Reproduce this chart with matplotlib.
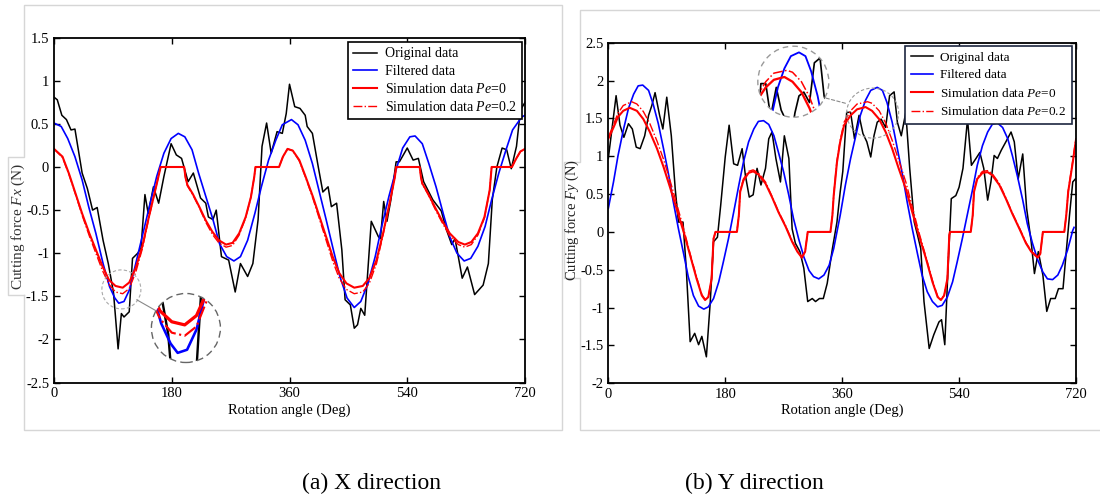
import numpy as np
import matplotlib
matplotlib.use("Agg")
import matplotlib.pyplot as plt
from matplotlib.lines import Line2D
from matplotlib.patches import Circle, Ellipse, ConnectionPatch

plt.rcParams["font.family"] = ["Liberation Serif", "DejaVu Serif"]
plt.rcParams["mathtext.fontset"] = "custom"
plt.rcParams["mathtext.rm"] = "Liberation Serif"
plt.rcParams["mathtext.it"] = "Liberation Serif:italic"
plt.rcParams["axes.unicode_minus"] = False

# ---------------- data: (a) X direction, (deg, N) ----------------
fx_original = [(0, 0.81), (5, 0.78), (12, 0.60), (19, 0.55), (26, 0.43), (32, 0.44), (43, -0.07),
               (51, -0.25), (59, -0.50), (66, -0.47), (75, -0.85), (83, -1.12), (91, -1.46),
               (98, -2.11), (103, -1.70), (107, -1.74), (115, -1.68), (120, -1.06), (128, -1.00),
               (133, -0.94), (139, -0.32), (144, -0.54), (152, -0.23), (160, -0.42), (168, -0.11),
               (179, 0.27), (187, 0.14), (195, 0.10), (205, -0.17), (213, -0.07), (224, -0.36),
               (232, -0.42), (236, -0.58), (243, -0.61), (248, -0.50), (256, -1.04), (267, -1.08),
               (277, -1.45), (285, -1.12), (296, -1.27), (304, -1.12), (312, -0.61), (318, 0.24),
               (325, 0.51), (332, 0.16), (341, 0.41), (349, 0.39), (355, 0.62), (360, 0.96),
               (368, 0.70), (376, 0.68), (384, 0.60), (387, 0.47), (395, 0.39), (404, 0.00),
               (411, -0.29), (419, -0.23), (424, -0.46), (432, -0.42), (440, -0.96), (445, -1.54),
               (453, -1.60), (459, -1.87), (464, -1.83), (469, -1.64), (475, -1.72), (485, -0.63),
               (496, -0.81), (499, -0.83), (504, -0.40), (509, -0.63), (515, -0.38), (523, 0.06),
               (528, 0.06), (540, 0.22), (549, 0.08), (557, 0.10), (565, -0.17), (573, -0.29),
               (579, -0.38), (587, -0.46), (592, -0.51), (600, -0.73), (608, -0.90), (613, -0.83),
               (624, -1.29), (632, -1.16), (643, -1.48), (656, -1.37), (664, -1.12), (670, -0.38),
               (677, 0.00), (685, 0.22), (692, 0.20), (699, -0.02), (707, 0.24), (713, 0.66),
               (720, 0.75)]

fx_filtered = [(0, 0.51), (11, 0.47), (21, 0.33), (32, 0.12), (43, -0.15), (53, -0.46), (64, -0.77),
               (75, -1.12), (85, -1.39), (93, -1.52), (99, -1.58), (107, -1.56), (115, -1.43),
               (125, -1.12), (136, -0.77), (147, -0.42), (157, -0.11), (168, 0.16), (179, 0.33),
               (190, 0.39), (200, 0.35), (211, 0.20), (221, -0.07), (232, -0.34), (243, -0.61),
               (253, -0.89), (264, -1.04), (275, -1.09), (285, -1.04), (296, -0.85), (307, -0.54),
               (317, -0.23), (328, 0.08), (339, 0.31), (349, 0.49), (363, 0.55), (373, 0.49),
               (384, 0.31), (395, 0.04), (405, -0.27), (416, -0.61), (427, -0.96), (437, -1.27),
               (448, -1.52), (459, -1.63), (469, -1.56), (480, -1.35), (491, -1.04), (501, -0.69),
               (512, -0.34), (523, -0.03), (533, 0.22), (544, 0.35), (552, 0.36), (563, 0.27),
               (573, 0.04), (584, -0.23), (595, -0.54), (605, -0.81), (616, -1.00), (627, -1.09),
               (637, -1.06), (648, -0.92), (659, -0.69), (669, -0.38), (680, -0.07), (691, 0.20),
               (701, 0.43), (715, 0.58), (720, 0.60)]

fx_sim_pe0 = [(0, 0.21), (13, 0.12), (23, -0.08), (33, -0.31), (43, -0.54), (54, -0.77), (64, -0.96),
              (74, -1.15), (84, -1.31), (94, -1.38), (105, -1.40), (115, -1.34), (125, -1.17),
              (135, -0.92), (145, -0.58), (156, -0.23), (163, 0.00), (199, 0.00), (201, -0.12),
              (204, -0.21), (212, -0.31), (222, -0.46), (232, -0.62), (242, -0.75), (252, -0.85),
              (263, -0.90), (273, -0.88), (283, -0.77), (293, -0.58), (301, -0.35), (306, -0.12),
              (308, 0.00), (344, 0.00), (350, 0.12), (357, 0.21), (365, 0.19), (375, 0.08),
              (385, -0.12), (396, -0.35), (406, -0.58), (416, -0.81), (426, -1.04), (436, -1.23),
              (447, -1.35), (459, -1.40), (472, -1.38), (482, -1.29), (493, -1.08), (503, -0.77),
              (513, -0.42), (521, -0.12), (523, 0.00), (559, 0.00), (561, -0.12), (563, -0.19),
              (572, -0.31), (582, -0.46), (593, -0.62), (605, -0.77), (618, -0.87), (628, -0.90),
              (638, -0.87), (648, -0.77), (658, -0.58), (666, -0.27), (669, 0.00), (700, 0.00),
              (706, 0.09), (713, 0.18), (720, 0.21)]

fx_sim_pe02 = [(0, 0.21), (13, 0.11), (23, -0.09), (33, -0.32), (43, -0.56), (54, -0.80), (64, -1.00),
               (74, -1.20), (84, -1.36), (94, -1.45), (105, -1.47), (115, -1.41), (125, -1.22),
               (135, -0.95), (145, -0.59), (156, -0.23), (163, 0.00), (199, 0.00), (201, -0.12),
               (204, -0.22), (212, -0.32), (222, -0.47), (232, -0.64), (242, -0.78), (252, -0.88),
               (263, -0.93), (273, -0.91), (283, -0.79), (293, -0.59), (301, -0.35), (306, -0.12),
               (308, 0.00), (344, 0.00), (350, 0.12), (357, 0.21), (365, 0.19), (375, 0.07),
               (385, -0.13), (396, -0.37), (406, -0.61), (416, -0.85), (426, -1.09), (436, -1.29),
               (447, -1.42), (459, -1.47), (472, -1.45), (482, -1.35), (493, -1.12), (503, -0.79),
               (513, -0.43), (521, -0.12), (523, 0.00), (559, 0.00), (561, -0.12), (563, -0.20),
               (572, -0.32), (582, -0.48), (593, -0.64), (605, -0.80), (618, -0.90), (628, -0.93),
               (638, -0.90), (648, -0.79), (658, -0.59), (666, -0.27), (669, 0.00), (700, 0.00),
               (706, 0.09), (713, 0.18), (720, 0.21)]

# ---------------- data: (b) Y direction ----------------
fy_original = [(0, 0.97), (12, 1.80), (18, 1.41), (24, 1.25), (31, 1.43), (37, 1.36), (43, 1.12),
               (49, 1.10), (56, 1.27), (62, 1.54), (67, 1.67), (72, 1.84), (79, 1.54), (84, 1.36),
               (90, 1.78), (97, 1.27), (103, 0.57), (108, 0.13), (115, 0.13), (120, -0.48),
               (126, -1.45), (133, -1.34), (139, -1.49), (144, -1.38), (151, -1.65), (157, -0.92),
               (162, -0.13), (168, -0.07), (173, 0.35), (180, 0.99), (186, 1.41), (193, 0.90),
               (199, 0.88), (206, 1.10), (211, 0.75), (217, 0.46), (223, 0.49), (229, 0.84),
               (235, 0.62), (242, 0.84), (247, 1.23), (252, 1.32), (258, 0.97), (265, 0.66),
               (271, 1.27), (278, 0.97), (283, 0.04), (288, -0.15), (295, -0.26), (301, -0.48),
               (307, -0.92), (314, -0.88), (319, -0.92), (325, -0.88), (331, -0.88), (337, -0.68),
               (345, -0.22), (352, 0.13), (357, 0.53), (361, 0.80), (367, 1.58), (373, 1.58),
               (379, 1.23), (386, 1.54), (392, 1.30), (398, 1.19), (404, 0.99), (409, 1.27),
               (414, 1.45), (420, 1.49), (427, 1.38), (433, 1.80), (440, 1.85), (445, 1.45),
               (451, 1.27), (458, 1.58), (464, 0.84), (471, 0.13), (476, -0.04), (481, -0.22),
               (486, -0.92), (494, -1.54), (501, -1.36), (509, -1.19), (513, -1.16), (518, -1.49),
               (523, -0.48), (528, 0.44), (535, 0.48), (540, 0.59), (546, 0.84), (553, 1.49),
               (559, 0.88), (566, 0.97), (572, 1.05), (578, 0.84), (584, 0.42), (589, 0.66),
               (594, 1.01), (599, 0.97), (605, 1.08), (612, 1.19), (620, 1.32), (625, 1.19),
               (631, 0.70), (638, 1.03), (644, 0.31), (651, -0.13), (656, -0.55), (662, -0.26),
               (669, -0.57), (675, -1.05), (681, -0.88), (688, -0.88), (693, -0.75), (700, -0.75),
               (705, -0.26), (710, 0.22), (715, 0.66), (719, 0.70)]

fy_filtered = [(0, 0.31), (8, 0.66), (15, 1.01), (23, 1.34), (31, 1.63), (39, 1.82), (46, 1.93),
               (53, 1.94), (62, 1.87), (69, 1.69), (77, 1.43), (85, 1.10), (93, 0.75), (100, 0.40),
               (108, 0.04), (116, -0.29), (123, -0.59), (131, -0.84), (139, -0.98), (147, -1.02),
               (154, -0.99), (162, -0.88), (170, -0.66), (177, -0.40), (185, -0.09), (193, 0.26),
               (201, 0.62), (208, 0.92), (216, 1.19), (224, 1.36), (231, 1.46), (239, 1.47),
               (247, 1.42), (255, 1.27), (262, 1.05), (270, 0.79), (278, 0.48), (285, 0.18),
               (293, -0.09), (301, -0.33), (309, -0.51), (316, -0.59), (324, -0.62), (332, -0.57),
               (340, -0.44), (347, -0.22), (357, 0.22), (365, 0.62), (373, 0.97), (381, 1.27),
               (388, 1.54), (396, 1.74), (404, 1.87), (414, 1.91), (422, 1.87), (429, 1.71),
               (437, 1.45), (445, 1.10), (453, 0.75), (460, 0.40), (468, 0.04), (476, -0.29),
               (483, -0.57), (491, -0.79), (499, -0.92), (507, -0.99), (514, -0.97), (522, -0.86),
               (530, -0.66), (537, -0.40), (545, -0.09), (553, 0.24), (561, 0.57), (568, 0.88),
               (576, 1.14), (584, 1.32), (591, 1.42), (599, 1.44), (607, 1.38), (615, 1.23),
               (622, 1.01), (630, 0.73), (638, 0.42), (645, 0.11), (653, -0.15), (661, -0.37),
               (669, -0.53), (676, -0.62), (684, -0.63), (692, -0.57), (699, -0.44), (707, -0.24),
               (715, 0.02), (717, 0.06)]

fy_sim_pe0 = [(0, 1.23), (8, 1.38), (15, 1.52), (23, 1.60), (33, 1.64), (44, 1.60), (54, 1.49),
              (64, 1.32), (75, 1.10), (85, 0.86), (95, 0.59), (105, 0.31), (116, 0.00), (126, -0.31),
              (136, -0.62), (144, -0.84), (149, -0.90), (154, -0.86), (159, -0.62), (162, -0.09),
              (165, 0.00), (198, 0.00), (201, 0.22), (203, 0.53), (208, 0.68), (216, 0.78),
              (223, 0.80), (231, 0.76), (242, 0.64), (252, 0.46), (262, 0.26), (273, 0.07),
              (283, -0.13), (291, -0.26), (298, -0.34), (303, -0.26), (307, 0.00), (342, 0.00),
              (345, 0.22), (347, 0.48), (352, 0.92), (357, 1.19), (363, 1.41), (373, 1.54),
              (383, 1.62), (396, 1.65), (406, 1.60), (417, 1.49), (427, 1.32), (437, 1.10),
              (447, 0.84), (458, 0.57), (468, 0.26), (478, -0.04), (489, -0.35), (499, -0.66),
              (507, -0.86), (512, -0.90), (517, -0.84), (522, -0.62), (525, -0.04), (526, 0.00),
              (558, 0.00), (561, 0.22), (563, 0.53), (568, 0.70), (576, 0.78), (584, 0.79),
              (591, 0.75), (602, 0.62), (612, 0.44), (622, 0.24), (633, 0.04), (643, -0.15),
              (651, -0.26), (661, -0.34), (665, -0.29), (669, 0.00), (702, 0.00), (705, 0.22),
              (708, 0.53), (715, 0.92), (720, 1.22)]

fy_sim_pe02 = [(0, 1.25), (8, 1.42), (15, 1.57), (23, 1.67), (36, 1.72), (44, 1.69), (54, 1.59),
               (64, 1.43), (75, 1.20), (85, 0.96), (95, 0.68), (105, 0.38), (116, 0.04), (126, -0.29),
               (136, -0.60), (144, -0.83), (149, -0.89), (154, -0.86), (159, -0.62), (162, -0.09),
               (165, 0.00), (198, 0.00), (201, 0.22), (203, 0.54), (208, 0.70), (216, 0.80),
               (223, 0.82), (231, 0.78), (242, 0.66), (252, 0.47), (262, 0.27), (273, 0.08),
               (283, -0.12), (291, -0.25), (298, -0.33), (303, -0.26), (307, 0.00), (342, 0.00),
               (345, 0.22), (347, 0.49), (352, 0.94), (357, 1.21), (363, 1.45), (373, 1.60),
               (383, 1.69), (399, 1.72), (406, 1.70), (417, 1.60), (427, 1.44), (437, 1.21),
               (447, 0.95), (458, 0.66), (468, 0.33), (478, 0.00), (489, -0.33), (499, -0.64),
               (507, -0.85), (512, -0.89), (517, -0.84), (522, -0.62), (525, -0.04), (526, 0.00),
               (558, 0.00), (561, 0.22), (563, 0.54), (568, 0.72), (576, 0.80), (584, 0.81),
               (591, 0.77), (602, 0.64), (612, 0.45), (622, 0.25), (633, 0.05), (643, -0.14),
               (651, -0.25), (661, -0.33), (665, -0.29), (669, 0.00), (702, 0.00), (705, 0.22),
               (708, 0.54), (715, 0.94), (720, 1.24)]

x_ticks = [0, 180, 360, 540, 720]
fx_ticks = [1.5, 1, 0.5, 0, -0.5, -1, -1.5, -2, -2.5]
fy_ticks = [2.5, 2, 1.5, 1, 0.5, 0, -0.5, -1, -1.5, -2]
labels = ["Original data", "Filtered data", r"Simulation data $Pe$=0", r"Simulation data $Pe$=0.2"]
labels_b = ["Original data", "Filtered data", r"Simulation data $\mathit{Pe}$=$\mathit{0}$",
            r"Simulation data $\mathit{Pe}$=$\mathit{0.2}$"]

W, H = 1100, 500
fig = plt.figure(figsize=(11, 5), dpi=100)


def fx(px):
    return px / W


def fy(py):
    return 1 - py / H


def styles(scale=1.0):
    return [dict(color="black", lw=1.1 * scale),
            dict(color="#0000ff", lw=1.2 * scale),
            dict(color="#ff0000", lw=1.5 * scale),
            dict(color="#ff0000", lw=1.0 * scale, ls="-.")]


def draw(ax, series, scale=1.0, clip=None):
    for s, st in zip(series, styles(scale)):
        a = np.array(s)
        ln, = ax.plot(a[:, 0], a[:, 1], **st)
        if clip is not None:
            ln.set_clip_path(clip)


def panel(rect, series, ylim, yticks, legend_labels, anchor, leg_ec, spacing, leg_size):
    ax = fig.add_axes(rect)
    draw(ax, series)
    ax.set_xlim(0, 720)
    ax.set_ylim(*ylim)
    ax.set_xticks(x_ticks)
    ax.set_xticklabels([str(t) for t in x_ticks])
    ax.set_yticks(yticks)
    ax.set_yticklabels([("%g" % t) for t in yticks])
    ax.tick_params(direction="in", top=True, right=True, length=4, width=1,
                   labelsize=10.5, pad=3.5)
    for sp in ax.spines.values():
        sp.set_linewidth(1.3)
    ax.set_xlabel("Rotation angle (Deg)", fontsize=10.5, labelpad=2)
    handles = [Line2D([], [], **st) for st in styles()]
    leg = ax.legend(handles, legend_labels, loc="upper right", bbox_to_anchor=anchor,
                    borderaxespad=0, fancybox=False, framealpha=1, edgecolor=leg_ec,
                    fontsize=leg_size, handlelength=1.7, labelspacing=spacing, borderpad=0.4,
                    handletextpad=0.55)
    leg.get_frame().set_linewidth(1.2)
    return ax


def zoom_circle(rect, series, xlim, ylim, scale, ec, ls):
    ax = fig.add_axes(rect)
    ax.set_xlim(*xlim)
    ax.set_ylim(*ylim)
    ax.axis("off")
    clip = Circle((0.5, 0.5), 0.5, transform=ax.transAxes, fc="white", ec="none", zorder=0)
    ax.add_patch(clip)
    draw(ax, series, scale, clip)
    ax.add_patch(Circle((0.5, 0.5), 0.5, transform=ax.transAxes, fill=False, ec=ec,
                        lw=1.0, ls=ls, clip_on=False, zorder=5))
    return ax


# panel frames (screenshot borders)
frame_a = [(24, 295), (24, 430), (562, 430), (562, 5), (24, 5), (24, 157), (8, 157), (8, 295), (24, 295)]
frame_b = [(1105, 10), (580, 10), (580, 162), (564, 162), (564, 278), (580, 278), (580, 430), (1105, 430)]
for fr in (frame_a, frame_b):
    fig.add_artist(Line2D([fx(p[0]) for p in fr], [fy(p[1]) for p in fr],
                          color="#d6d6d6", lw=1.0, transform=fig.transFigure))

series_a = [fx_original, fx_filtered, fx_sim_pe0, fx_sim_pe02]
series_b = [fy_original, fy_filtered, fy_sim_pe0, fy_sim_pe02]

ax1 = panel([fx(54), fy(382.5), (525 - 54) / W, (382.5 - 37.7) / H], series_a,
            (-2.5, 1.5), fx_ticks, labels, (0.994, 0.988), "black", 0.3, 10)
ax2 = panel([fx(608.3), fy(383.3), (1076 - 608.3) / W, (383.3 - 42.7) / H], series_b,
            (-2, 2.5), fy_ticks, labels_b, (0.991, 0.990), "#1c2640", 0.42, 9.5)

fig.text(fx(18), fy(226), r"Cutting force $Fx$ (N)", rotation=90, ha="center", va="center",
         fontsize=11, color="#333333")
fig.text(fx(572), fy(220), r"Cutting force $Fy$ (N)", rotation=90, ha="center", va="center",
         fontsize=10.5, color="#222222")

# small marker circles on the main axes
ax1.add_patch(Ellipse((103, -1.42), 2 * 19.5 / 0.654, 2 * 19.5 / 86.2, fill=False,
                      ec="#aaaaaa", lw=0.8, ls=(0, (3, 2)), zorder=6))
ax2.add_patch(Ellipse((407, 1.57), 2 * 26 / 0.6496, 2 * 25 / 75.7, fill=False,
                      ec="#999999", lw=0.8, ls=(0, (3, 2)), zorder=6))

# magnified circles
in1 = zoom_circle([fx(185.9 - 34.5), fy(328 + 34.5), 69 / W, 69 / H], series_a,
                  (106 - 29.3, 106 + 29.3), (-1.42 - 0.222, -1.42 + 0.222), 1.55,
                  "#666666", (0, (5, 3)))
in2 = zoom_circle([fx(793.3 - 35.5), fy(81.7 + 35.5), 71 / W, 71 / H], series_b,
                  (407 - 43.8, 407 + 43.8), (1.60 - 0.375, 1.60 + 0.375), 1.1,
                  "#999999", (0, (4, 3)))

fig.add_artist(ConnectionPatch(xyA=(126.4, -1.54), coordsA=ax1.transData,
                               xyB=(0.067, 0.75), coordsB=in1.transAxes,
                               color="#888888", lw=0.8))
fig.add_artist(ConnectionPatch(xyA=(365, 1.70), coordsA=ax2.transData,
                               xyB=(0.945, 0.273), coordsB=in2.transAxes,
                               color="#888888", lw=0.8, ls=(0, (3, 2))))

fig.text(fx(371), fy(483), "(a) X direction", ha="center", va="center", fontsize=17)
fig.text(fx(754), fy(483), "(b) Y direction", ha="center", va="center", fontsize=17)

fig.savefig("out.png", dpi=100, facecolor="white")
